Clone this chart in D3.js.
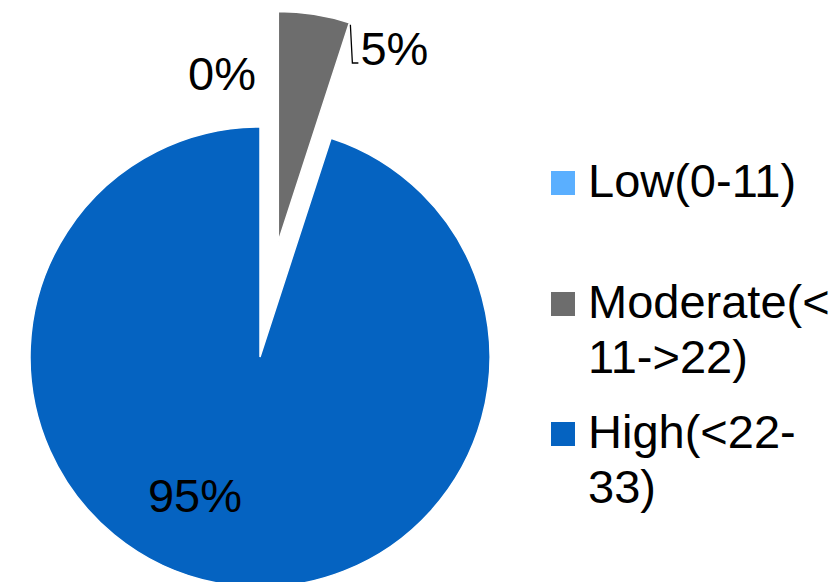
<!DOCTYPE html>
<html>
<head>
<meta charset="utf-8">
<script src="https://cdn.jsdelivr.net/npm/d3@7"></script>
<style>
  html, body { margin: 0; padding: 0; background: #ffffff; }
  svg { display: block; font-family: "Liberation Sans", Arial, sans-serif; }
</style>
</head>
<body>
<svg id="chart" width="836" height="582"></svg>
<script>
// Risk level categories and their share of respondents (%)
const categories = ["Low(0-11)", "Moderate(<11->22)", "High(<22-33)"];
const values = [0, 5, 95];
const colors = ["#5aafff", "#6d6d6d", "#0563c1"];
// Legend text split over lines as it wraps beside the pie
const legendLines = [["Low(0-11)"], ["Moderate(<", "11->22)"], ["High(<22-", "33)"]];

const svg = d3.select("#chart");
const cx = 260, cy = 357, R = 230;
const explode = 117; // pull-out distance for the moderate slice

const pie = d3.pie().sort(null).value(d => d);
const arcs = pie(values);
const arc = d3.arc().innerRadius(0).outerRadius(R);

const g = svg.append("g").attr("transform", `translate(${cx},${cy})`);

g.selectAll("path.slice")
  .data(arcs)
  .join("path")
  .attr("class", "slice")
  .attr("d", arc)
  .attr("fill", (d, i) => colors[i])
  .attr("stroke", "#ffffff")
  .attr("stroke-width", 1.5)
  .attr("transform", (d, i) => {
    if (i !== 1) return null;
    const mid = (d.startAngle + d.endAngle) / 2;
    return `translate(${explode * Math.sin(mid)},${-explode * Math.cos(mid)})`;
  });

// Percentage labels
const fmt = v => Math.round(v) + "%";
const fontSize = 47;

// 0% label sits up-left of the top of the pie
g.append("text")
  .attr("x", -38).attr("y", -267)
  .attr("text-anchor", "middle")
  .attr("font-size", fontSize)
  .attr("fill", "#000")
  .text(fmt(values[0]));

// 5% label with a leader line from the outer corner of the exploded slice
const mod = arcs[1];
const modMid = (mod.startAngle + mod.endAngle) / 2;
const ox = explode * Math.sin(modMid), oy = -explode * Math.cos(modMid);
const ex = ox + R * Math.sin(mod.endAngle) + 1, ey = oy - R * Math.cos(mod.endAngle) + 2;
g.append("path")
  .attr("d", `M${ex},${ey} L${ex + 2},${-294} L${ex + 8},${-294}`)
  .attr("fill", "none")
  .attr("stroke", "#000")
  .attr("stroke-width", 1.3);
g.append("text")
  .attr("x", ex + 10).attr("y", -292)
  .attr("font-size", fontSize)
  .attr("fill", "#000")
  .text(fmt(values[1]));

// 95% label inside the large slice
g.append("text")
  .attr("x", -65).attr("y", 155)
  .attr("text-anchor", "middle")
  .attr("font-size", fontSize)
  .attr("fill", "#000")
  .text(fmt(values[2]));

// Legend
const legendX = 551, textX = 588;
const baselines = [197, 318, 448];
const lineGap = 55;
const legend = svg.append("g");
categories.forEach((c, i) => {
  const item = legend.append("g");
  item.append("rect")
    .attr("x", legendX).attr("y", baselines[i] - 26)
    .attr("width", 24).attr("height", 24)
    .attr("fill", colors[i]);
  const t = item.append("text")
    .attr("font-size", fontSize)
    .attr("fill", "#000");
  legendLines[i].forEach((line, j) => {
    t.append("tspan")
      .attr("x", textX)
      .attr("y", baselines[i] + j * lineGap)
      .text(line);
  });
});
</script>
</body>
</html>
